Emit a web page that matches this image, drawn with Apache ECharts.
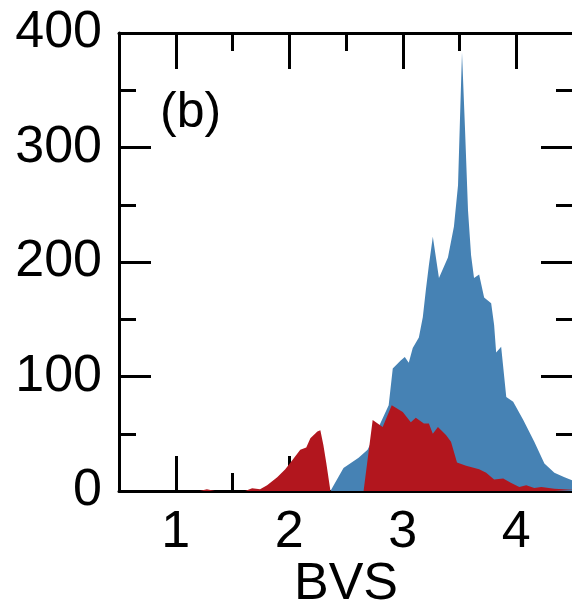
<!DOCTYPE html>
<html>
<head>
<meta charset="utf-8">
<script src="https://cdn.jsdelivr.net/npm/echarts@6/dist/echarts.min.js"></script>
<style>
html,body{margin:0;padding:0;background:#fff;}
#chart{width:572px;height:605px;}
</style>
</head>
<body>
<div id="chart"></div>
<script>
// Data
const blueBVS   = [2.363, 2.478, 2.611, 2.690, 2.788, 2.876, 2.912, 2.982, 3.018, 3.053, 3.088, 3.142, 3.177, 3.204, 3.230, 3.265, 3.319, 3.398, 3.451, 3.487, 3.504, 3.522, 3.549, 3.575, 3.602, 3.628, 3.673, 3.717, 3.779, 3.805, 3.823, 3.867, 3.912, 3.973, 4.062, 4.159, 4.248, 4.336, 4.425, 4.504];
const blueCount = [0, 20, 29, 36, 56, 75, 107, 114, 117, 112, 125, 134, 152, 176, 197, 222, 186, 204, 231, 267, 324, 383, 315, 245, 206, 186, 189, 169, 164, 145, 121, 126, 82, 78, 62, 43, 24, 16, 12, 9];
const redBVS    = [1.212, 1.274, 1.345, 1.611, 1.673, 1.743, 1.805, 1.894, 1.965, 2.035, 2.097, 2.150, 2.186, 2.248, 2.274, 2.301, 2.327, 2.363, 2.655, 2.735, 2.823, 2.903, 3.000, 3.071, 3.115, 3.186, 3.230, 3.265, 3.310, 3.381, 3.425, 3.478, 3.558, 3.673, 3.735, 3.805, 3.885, 3.956, 4.027, 4.088, 4.159, 4.221, 4.336, 4.504];
const redCount  = [0, 1.5, 0, 0, 2.5, 1.5, 5, 12, 19, 28, 36, 38, 46, 52, 53, 40, 24, 0, 0, 62, 56, 75, 69, 60, 64, 59, 59, 50, 56, 49, 43, 25, 22, 19, 16, 10, 11, 7, 3.5, 5, 2.6, 3.5, 2, 1];
const xMajorTicks = [1, 2, 3, 4];
const xMinorTicks = [1.5, 2.5, 3.5];
const yMajorTicks = [0, 100, 200, 300, 400];
const yMinorTicks = [50, 150, 250, 350];
const xName = 'BVS';
const panelLabel = '(b)';

const FONT = '"Liberation Sans", Arial, Helvetica, sans-serif';
const chart = echarts.init(document.getElementById('chart'), null, {renderer: 'canvas'});

const G = {left: 119, top: 33, width: 454, height: 458, containLabel: false, outerBoundsMode: 'none'};
const grids = [0,1,2,3].map(() => Object.assign({}, G));

function xAx(gi, pos, ticks, len, showLine, showLabel, name) {
  return {
    type: 'value', gridIndex: gi, position: pos, min: 0.5, max: 4.5,
    axisLine: {show: showLine, onZero: false, lineStyle: {color: '#000', width: 3}},
    axisTick: {show: true, inside: true, length: len, customValues: ticks, lineStyle: {color: '#000', width: 3}},
    axisLabel: {show: showLabel, customValues: ticks, margin: 16, color: '#000', fontSize: 52, fontFamily: FONT},
    splitLine: {show: false},
    name: name || '', nameLocation: 'middle', nameGap: 68, nameMoveOverlap: false,
    nameTextStyle: {color: '#000', fontSize: 52, fontFamily: FONT}
  };
}
function yAx(gi, pos, ticks, len, showLine, showLabel) {
  return {
    type: 'value', gridIndex: gi, position: pos, min: 0, max: 400,
    axisLine: {show: showLine, lineStyle: {color: '#000', width: 3}},
    axisTick: {show: true, inside: true, length: len, customValues: ticks, lineStyle: {color: '#000', width: 3}},
    axisLabel: {show: showLabel, customValues: ticks, margin: 17, color: '#000', fontSize: 52, fontFamily: FONT},
    splitLine: {show: false}
  };
}

const option = {
  animation: false,
  backgroundColor: '#fff',
  grid: grids,
  xAxis: [
    xAx(0, 'bottom', xMajorTicks, 35, true, true, xName),
    xAx(1, 'top', xMajorTicks, 36, true, false),
    xAx(2, 'bottom', xMinorTicks, 18, false, false),
    xAx(3, 'top', xMinorTicks, 18, false, false)
  ],
  yAxis: [
    yAx(0, 'left', yMajorTicks, 32, true, true),
    yAx(1, 'right', yMajorTicks, 32, true, false),
    yAx(2, 'left', yMinorTicks, 17, false, false),
    yAx(3, 'right', yMinorTicks, 17, false, false)
  ],
  graphic: [{
    type: 'text', left: 160, top: 88, z: 10,
    style: {text: panelLabel, fill: '#000', fontSize: 50, fontFamily: FONT}
  }],
  series: [
    {
      type: 'line', xAxisIndex: 0, yAxisIndex: 0, z: 2,
      data: blueBVS.map((x, i) => [x, blueCount[i]]),
      showSymbol: false, symbol: 'none', smooth: false,
      lineStyle: {width: 0, color: '#4682B4'},
      areaStyle: {color: '#4682B4', opacity: 1}
    },
    {
      type: 'line', xAxisIndex: 0, yAxisIndex: 0, z: 3,
      data: redBVS.map((x, i) => [x, redCount[i]]),
      showSymbol: false, symbol: 'none', smooth: false,
      lineStyle: {width: 0, color: '#B2161E'},
      areaStyle: {color: '#B2161E', opacity: 1}
    }
  ]
};
chart.setOption(option);
</script>
</body>
</html>
